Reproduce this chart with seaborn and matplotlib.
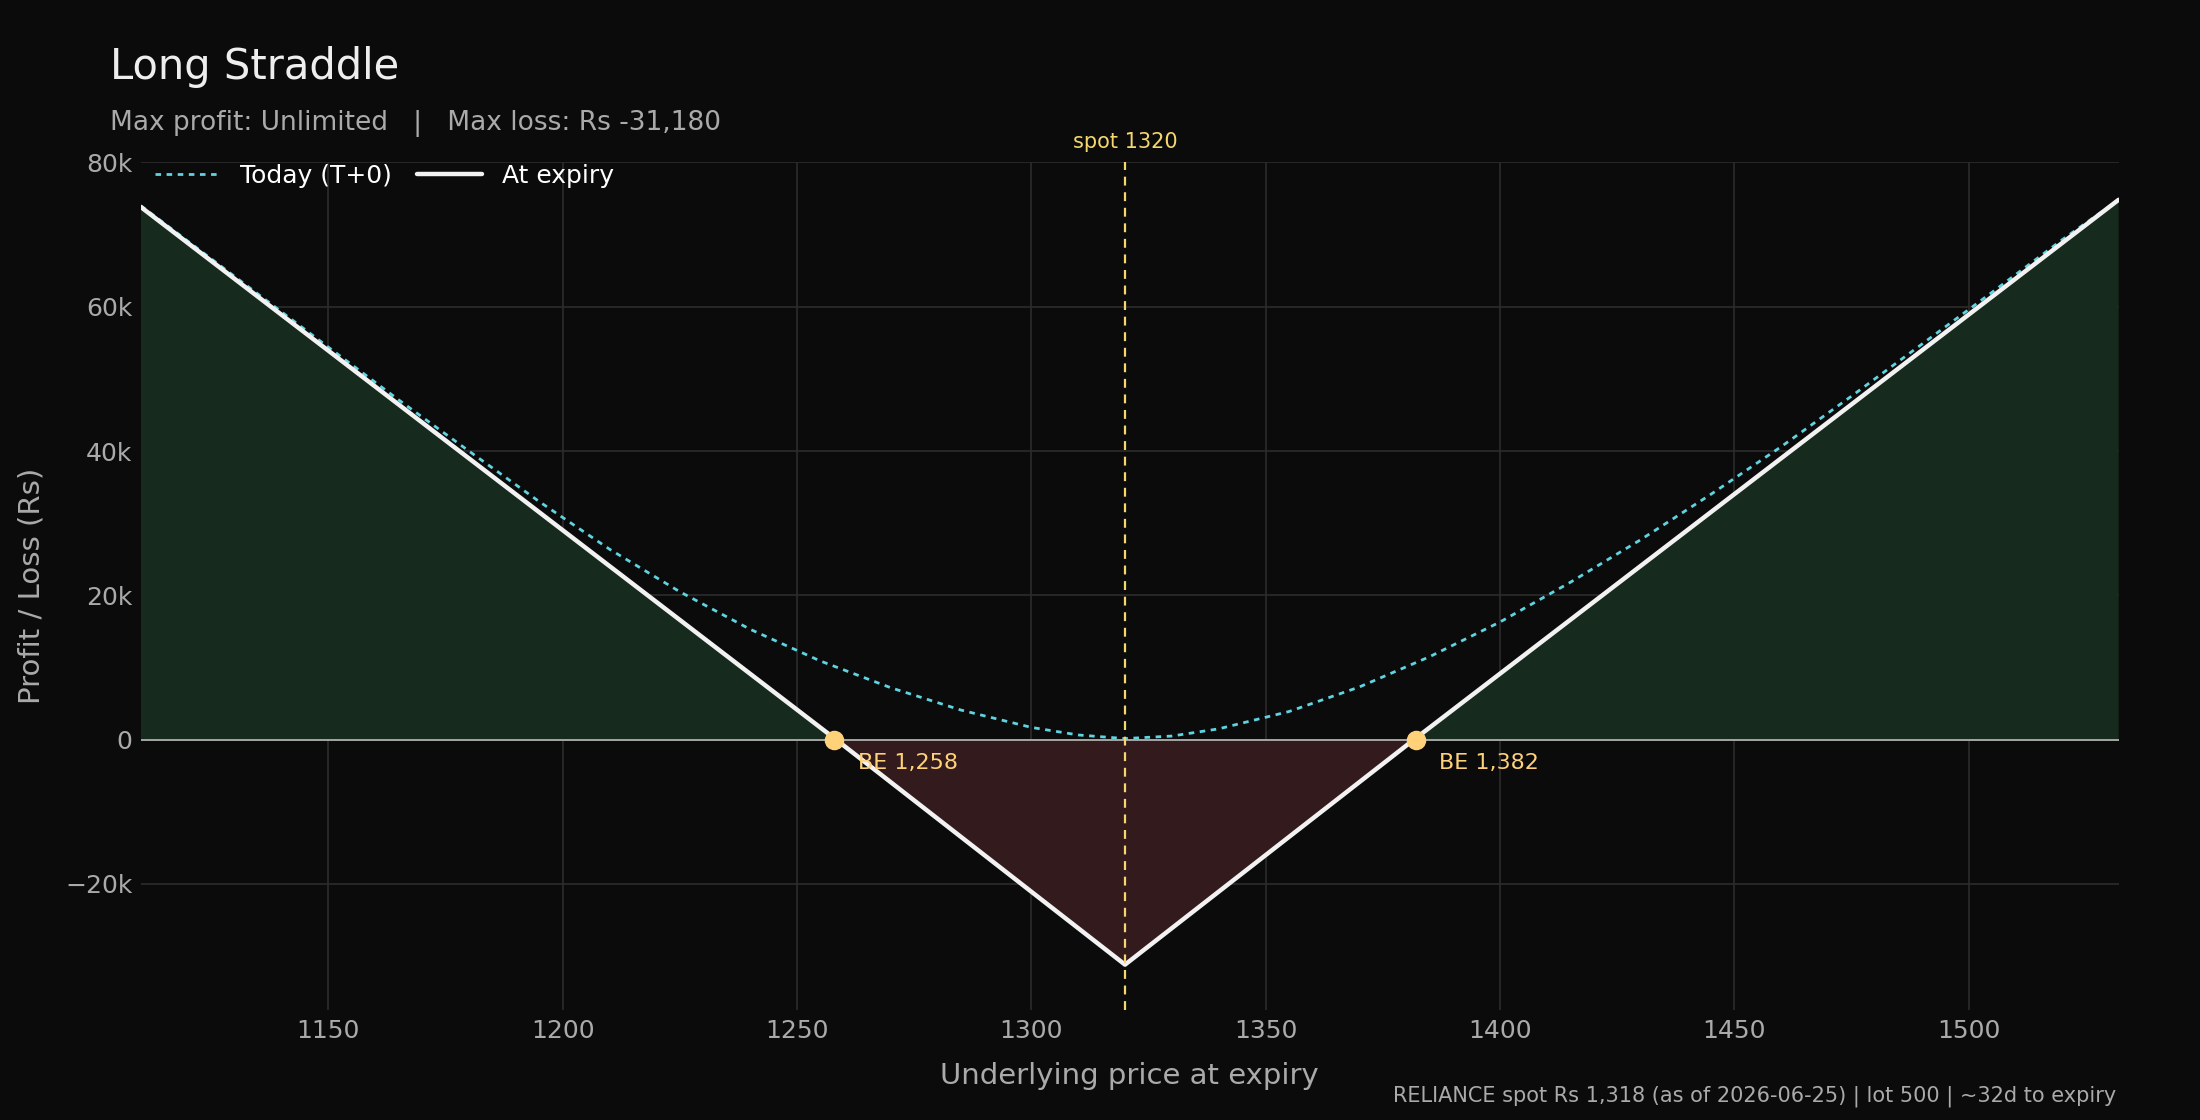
import matplotlib
matplotlib.use("Agg")
import matplotlib.pyplot as plt
import numpy as np
import pandas as pd
import seaborn as sns
from matplotlib.ticker import FuncFormatter

# payoff at expiry (kinks at breakevens and strike)
expiry_x = [1110, 1258.36, 1320, 1381.64, 1532]
expiry_pnl = [73820, 0, -31180, 0, 74820]

# today's (T+0) curve
today_x = [1110, 1130, 1150, 1165, 1180, 1195, 1210, 1225, 1240, 1255, 1270, 1285,
           1300, 1310, 1320, 1330, 1340, 1355, 1370, 1385, 1400, 1415, 1430, 1445,
           1460, 1475, 1490, 1505, 1520, 1532]
today_pnl = [74000, 64200, 54400, 47100, 40000, 33000, 26400, 20500, 15300, 10900,
             7200, 4100, 1700, 650, 150, 500, 1500, 3900, 7300, 11500, 16300, 21800,
             27700, 34000, 40600, 47600, 54800, 62000, 69300, 74800]

breakevens = [1258, 1382]
spot_strike = 1320

bg = "#0b0b0b"
sns.set_theme(style="dark")
plt.rcParams["font.family"] = ["DejaVu Sans"]

fig = plt.figure(figsize=(22, 11.2), dpi=100, facecolor=bg)
ax = fig.add_axes([0.064, 0.098, 0.899, 0.757])
ax.set_facecolor(bg)

exp = np.array(expiry_pnl)
ax.fill_between(expiry_x, exp, 0, where=exp >= 0, interpolate=True, color="#172a1e", lw=0)
ax.fill_between(expiry_x, exp, 0, where=exp <= 0, interpolate=True, color="#331a1d", lw=0)

df_today = pd.DataFrame({"x": today_x, "y": today_pnl})
df_exp = pd.DataFrame({"x": expiry_x, "y": expiry_pnl})
sns.lineplot(data=df_today, x="x", y="y", ax=ax, color="#5fd3e0", lw=2, ls=(0, (2, 2)),
             label="Today (T+0)")
sns.lineplot(data=df_exp, x="x", y="y", ax=ax, color="#f2f2f2", lw=3.2, label="At expiry")

ax.axhline(0, color="#bbbbbb", lw=1.2, zorder=1)
ax.axvline(spot_strike, color="#f5d76e", lw=1.6, ls=(0, (4, 3)))
ax.text(spot_strike, 81500, f"spot {spot_strike}", color="#f5d76e", ha="center", va="bottom", fontsize=15)

ax.scatter(breakevens, [0, 0], s=170, color="#ffd27a", zorder=5, edgecolor="#ffd27a")
for b in breakevens:
    ax.text(b + 5, -1800, f"BE {b:,}", color="#ffd27a", fontsize=16, va="top")

ax.set_xlim(1110, 1532)
ax.set_ylim(-37500, 80000)
ax.set_xticks(range(1150, 1501, 50))
ax.set_yticks(range(-20000, 80001, 20000))
ax.yaxis.set_major_formatter(FuncFormatter(
    lambda v, p: "0" if v == 0 else (f"{int(v/1000)}k".replace("-", "\u2212"))))
ax.grid(True, color="#2c2c2c", lw=1.2)
for s in ax.spines.values():
    s.set_visible(False)
ax.tick_params(colors="#aaaaaa", labelsize=18, length=0, pad=6)
ax.set_xlabel("Underlying price at expiry", color="#aaaaaa", fontsize=21, labelpad=14)
ax.set_ylabel("Profit / Loss (Rs)", color="#aaaaaa", fontsize=21, labelpad=14)

leg = ax.legend(loc="upper left", ncol=2, frameon=False, fontsize=18, labelcolor="white",
                bbox_to_anchor=(-0.004, 1.025), handlelength=2.6, columnspacing=1.0)

fig.text(0.05, 0.94, "Long Straddle", color="#eeeeee", fontsize=30, va="center")
fig.text(0.05, 0.89, "Max profit: Unlimited   |   Max loss: Rs -31,180", color="#aaaaaa",
         fontsize=19, va="center")
fig.text(0.962, 0.012, "RELIANCE spot Rs 1,318 (as of 2026-06-25) | lot 500 | ~32d to expiry",
         color="#aaaaaa", fontsize=15, ha="right", va="bottom")

fig.savefig("out.png", facecolor=bg)
